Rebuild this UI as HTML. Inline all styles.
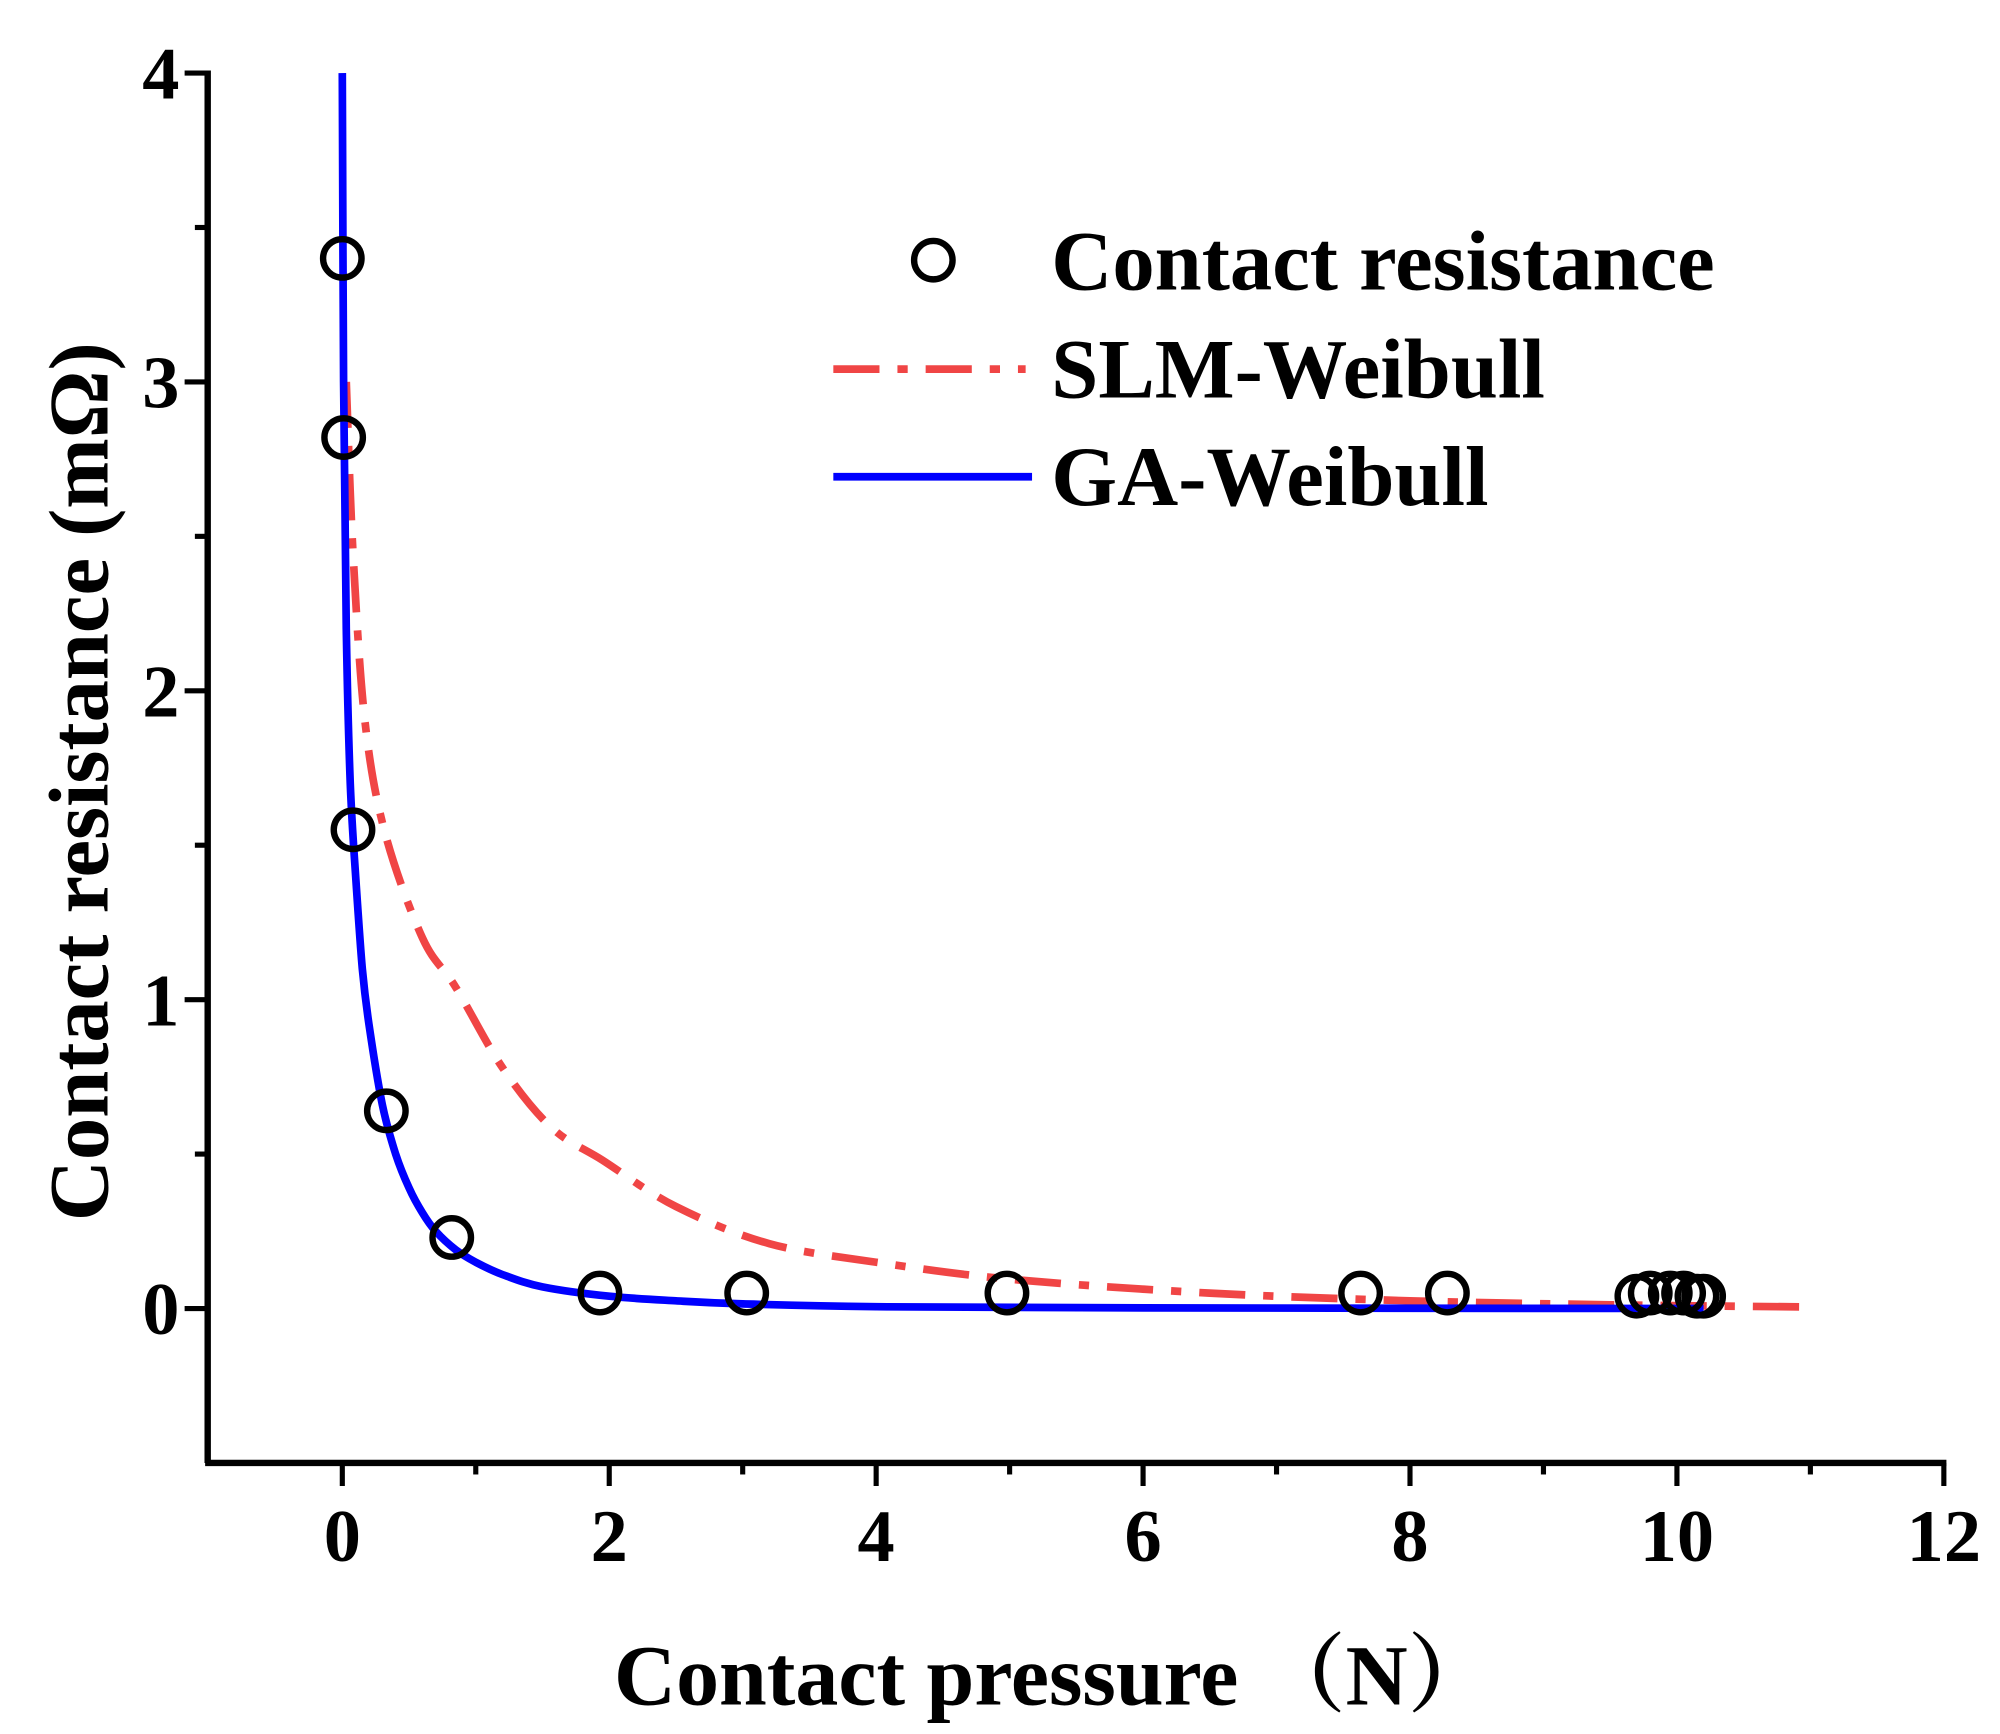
<!DOCTYPE html>
<html><head><meta charset="utf-8"><style>
html,body{margin:0;padding:0;background:#fff;}
svg{display:block;}
text{font-family:"Liberation Serif","Noto Serif CJK SC",serif;font-weight:bold;fill:#000;}
</style></head><body>
<svg id="chart" width="2000" height="1734" viewBox="0 0 1560 1353" preserveAspectRatio="none" xmlns="http://www.w3.org/2000/svg">
<g id="axes"></g>
<g id="series"></g>
<text x="822" y="1330" font-size="67" text-anchor="middle">Contact pressure （N）</text>
<text transform="translate(84,610) rotate(-90)" font-size="66" text-anchor="middle">Contact resistance (mΩ)</text>
<g>
<circle cx="728" cy="203" r="15" fill="none" stroke="#000" stroke-width="5"/>
<text x="820" y="226" font-size="66">Contact resistance</text>
<line x1="650" y1="288" x2="800" y2="288" stroke="#f04545" stroke-width="6" stroke-dasharray="36,14,8,14"/>
<text x="820" y="310" font-size="66">SLM-Weibull</text>
<line x1="650" y1="372" x2="805" y2="372" stroke="#0000ff" stroke-width="6"/>
<text x="820" y="394" font-size="66">GA-Weibull</text>
</g>
</svg>
<script>
const xTicks=[0,2,4,6,8,10,12];
const yTicks=[0,1,2,3,4];
const measX=[0,0.01,0.08,0.33,0.82,1.93,3.03,4.98,7.63,8.28,9.7,9.8,9.95,10.05,10.15,10.2];
const measY=[3.4,2.82,1.55,0.64,0.23,0.05,0.05,0.05,0.05,0.05,0.04,0.05,0.05,0.05,0.04,0.04];
const gaX=[0,0.01,0.03,0.06,0.1,0.15,0.2,0.3,0.4,0.5,0.6,0.7,0.85,1.0,1.2,1.5,2,2.5,3,4,6,10.2];
const gaY=[4,3.0,2.2,1.7,1.4,1.1,0.92,0.66,0.5,0.39,0.31,0.25,0.19,0.15,0.11,0.07,0.04,0.025,0.015,0.006,0.002,0];
const slmX=[0.03,0.08,0.17,0.32,0.6,0.85,1.2,1.57,1.95,2.5,3.2,4,5,6.5,8,9.5,11];
const slmY=[3.0,2.45,1.9,1.54,1.2,1.04,0.78,0.585,0.48,0.33,0.21,0.15,0.095,0.05,0.025,0.012,0.005];
const NS='http://www.w3.org/2000/svg';
const sx=v=>267+(v)*104.1;
const sy=v=>1021-v*241;
const ax=document.getElementById('axes'), se=document.getElementById('series');
function mk(tag,attrs,parent){const e=document.createElementNS(NS,tag);for(const k in attrs)e.setAttribute(k,attrs[k]);parent.appendChild(e);return e;}
let e=mk('line',{x1:162,y1:sy(-0.5),x2:162,y2:55,stroke:'#000','stroke-width':5},ax);


e=mk('line',{x1:160,y1:sy(-0.5),x2:sx(12)+2,y2:sy(-0.5),stroke:'#000','stroke-width':5},ax);


for(let v=0;v<=4.001;v+=0.5){const maj=Math.abs(v-Math.round(v))<1e-6;
 e=mk('line',{x1:162,y1:sy(v),x2:maj?144:152,y2:sy(v),stroke:'#000','stroke-width':4},ax);
 
 }
yTicks.forEach(v=>{e=mk('text',{x:140,y:sy(v)+20,'font-size':58,'text-anchor':'end'},ax);e.textContent=v;
 
 });
for(let v=0;v<=12;v++){const maj=v%2===0;
 e=mk('line',{x1:sx(v),y1:sy(-0.5),x2:sx(v),y2:sy(-0.5)+(maj?18:9),stroke:'#000','stroke-width':4},ax);
 
 }
xTicks.forEach(v=>{e=mk('text',{x:sx(v),y:1218,'font-size':58,'text-anchor':'middle'},ax);e.textContent=v;
 
 });
function smooth(xs,ys){const p=xs.map((x,i)=>[sx(x),sy(ys[i])]);let d='M'+p[0][0].toFixed(1)+','+p[0][1].toFixed(1);
 for(let i=0;i<p.length-1;i++){const p0=p[Math.max(i-1,0)],p1=p[i],p2=p[i+1],p3=p[Math.min(i+2,p.length-1)];
  const c1=[p1[0]+(p2[0]-p0[0])/6,p1[1]+(p2[1]-p0[1])/6],c2=[p2[0]-(p3[0]-p1[0])/6,p2[1]-(p3[1]-p1[1])/6];
  d+=' C'+c1.map(v=>v.toFixed(1)).join(',')+' '+c2.map(v=>v.toFixed(1)).join(',')+' '+p2[0].toFixed(1)+','+p2[1].toFixed(1);}
 return d;}
e=mk('path',{d:smooth(slmX,slmY),fill:'none',stroke:'#f04545','stroke-width':6,'stroke-dasharray':'36,14,8,14'},se);


e=mk('path',{d:smooth(gaX,gaY),fill:'none',stroke:'#0000ff','stroke-width':6,'stroke-linejoin':'round'},se);


measX.forEach((x,i)=>{e=mk('circle',{cx:sx(x),cy:sy(measY[i]),r:15,fill:'none',stroke:'#000','stroke-width':5},se);
 
 });
</script>
</body></html>
